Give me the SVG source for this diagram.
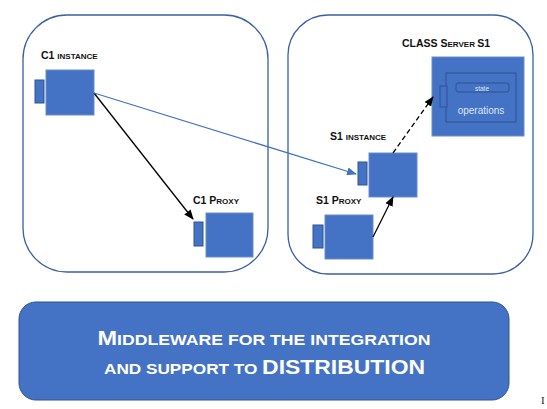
<svg xmlns="http://www.w3.org/2000/svg" width="547" height="409" viewBox="0 0 547 409">
<defs>
<style>
.panel{fill:#fff;stroke:#3B5FA6;stroke-width:1.3}
.box{fill:#4472C4;stroke:#6B8CCB;stroke-width:1}
.port{fill:#4472C4;stroke:#2F528F;stroke-width:1}
.lbl{font-family:"Liberation Sans",Arial,sans-serif;font-weight:bold;fill:#111}
.big{font-size:10.5px}
.sm{font-size:8px}
.conn{fill:none;stroke-width:1.3}
.mid{font-family:"Liberation Sans",Arial,sans-serif;font-weight:bold;fill:#fff}
</style>
<marker id="ab" markerWidth="10" markerHeight="8" refX="9" refY="4" orient="auto" markerUnits="userSpaceOnUse"><path d="M0,0 L10,4 L0,8 Z" fill="#000"/></marker>
<marker id="au" markerWidth="10" markerHeight="8" refX="9" refY="4" orient="auto" markerUnits="userSpaceOnUse"><path d="M0,0 L10,4 L0,8 Z" fill="#4472C4"/></marker>
</defs>
<rect width="547" height="409" fill="#fff"/>
<g id="panel-client"><rect class="panel" x="23" y="15" width="245" height="257" rx="44" ry="44"/></g>
<g id="panel-server"><rect class="panel" x="288" y="15" width="245" height="259" rx="40" ry="40"/></g>

<g id="c1-instance">
<rect class="box" x="46" y="70" width="48" height="45"/>
<rect class="port" x="35" y="80" width="9" height="23"/>
<text class="lbl" x="41" y="59"><tspan class="big">C1 </tspan><tspan class="sm">INSTANCE</tspan></text>
</g>
<g id="c1-proxy">
<rect class="box" x="206" y="213" width="47" height="44"/>
<rect class="port" x="194" y="222" width="9" height="24"/>
<text class="lbl" x="193" y="204"><tspan class="big">C1 P</tspan><tspan class="sm">ROXY</tspan></text>
</g>
<g id="s1-instance">
<rect class="box" x="369" y="153" width="48" height="44"/>
<rect class="port" x="358" y="162" width="9" height="23"/>
<text class="lbl" x="330" y="140"><tspan class="big">S1 </tspan><tspan class="sm">INSTANCE</tspan></text>
</g>
<g id="s1-proxy">
<rect class="box" x="325" y="215" width="48" height="44"/>
<rect class="port" x="313" y="225" width="10" height="23"/>
<text class="lbl" x="316" y="204"><tspan class="big">S1 P</tspan><tspan class="sm">ROXY</tspan></text>
</g>
<g id="class-server">
<rect class="box" x="432" y="57" width="92" height="79"/>
<rect x="446" y="73" width="70" height="49" fill="#4472C4" stroke="#2F528F" stroke-width="1"/>
<rect x="440" y="86" width="7" height="21" fill="#4472C4" stroke="#2F528F" stroke-width="1"/>
<rect x="456" y="83" width="53" height="9" rx="2" fill="#4472C4" stroke="#2F528F" stroke-width="1"/>
<text x="482" y="90.5" text-anchor="middle" font-family="Liberation Sans, Arial, sans-serif" font-size="6.5" fill="#DDE6F5">state</text>
<text x="481" y="114" text-anchor="middle" font-family="Liberation Sans, Arial, sans-serif" font-size="10" fill="#DDE6F5">operations</text>
<text class="lbl" x="402" y="47"><tspan class="big">CLASS S</tspan><tspan class="sm">ERVER </tspan><tspan class="big">S1</tspan></text>
</g>

<g id="connectors">
<line class="conn" x1="94" y1="93" x2="193" y2="219" stroke="#000" marker-end="url(#ab)"/>
<line class="conn" x1="94" y1="93" x2="356" y2="174" stroke="#4472C4" marker-end="url(#au)"/>
<line class="conn" x1="373" y1="237" x2="393" y2="197" stroke="#000" marker-end="url(#ab)"/>
<line class="conn" x1="393" y1="153" x2="433" y2="97" stroke="#000" stroke-dasharray="5,3" marker-end="url(#ab)"/>
</g>

<g id="middleware">
<rect x="19" y="302" width="490" height="98" rx="17" ry="17" fill="#4472C4" stroke="#2F528F" stroke-width="1"/>
<text class="mid" x="264" y="345" text-anchor="middle" textLength="333" lengthAdjust="spacingAndGlyphs"><tspan font-size="20">M</tspan><tspan font-size="15">IDDLEWARE FOR THE INTEGRATION</tspan></text>
<text class="mid" x="264.5" y="374" text-anchor="middle" textLength="321" lengthAdjust="spacingAndGlyphs"><tspan font-size="15">AND SUPPORT TO </tspan><tspan font-size="20">DISTRIBUTION</tspan></text>
</g>
<text x="541" y="404" font-family="Liberation Serif, serif" font-size="11" fill="#222">I</text>
</svg>
